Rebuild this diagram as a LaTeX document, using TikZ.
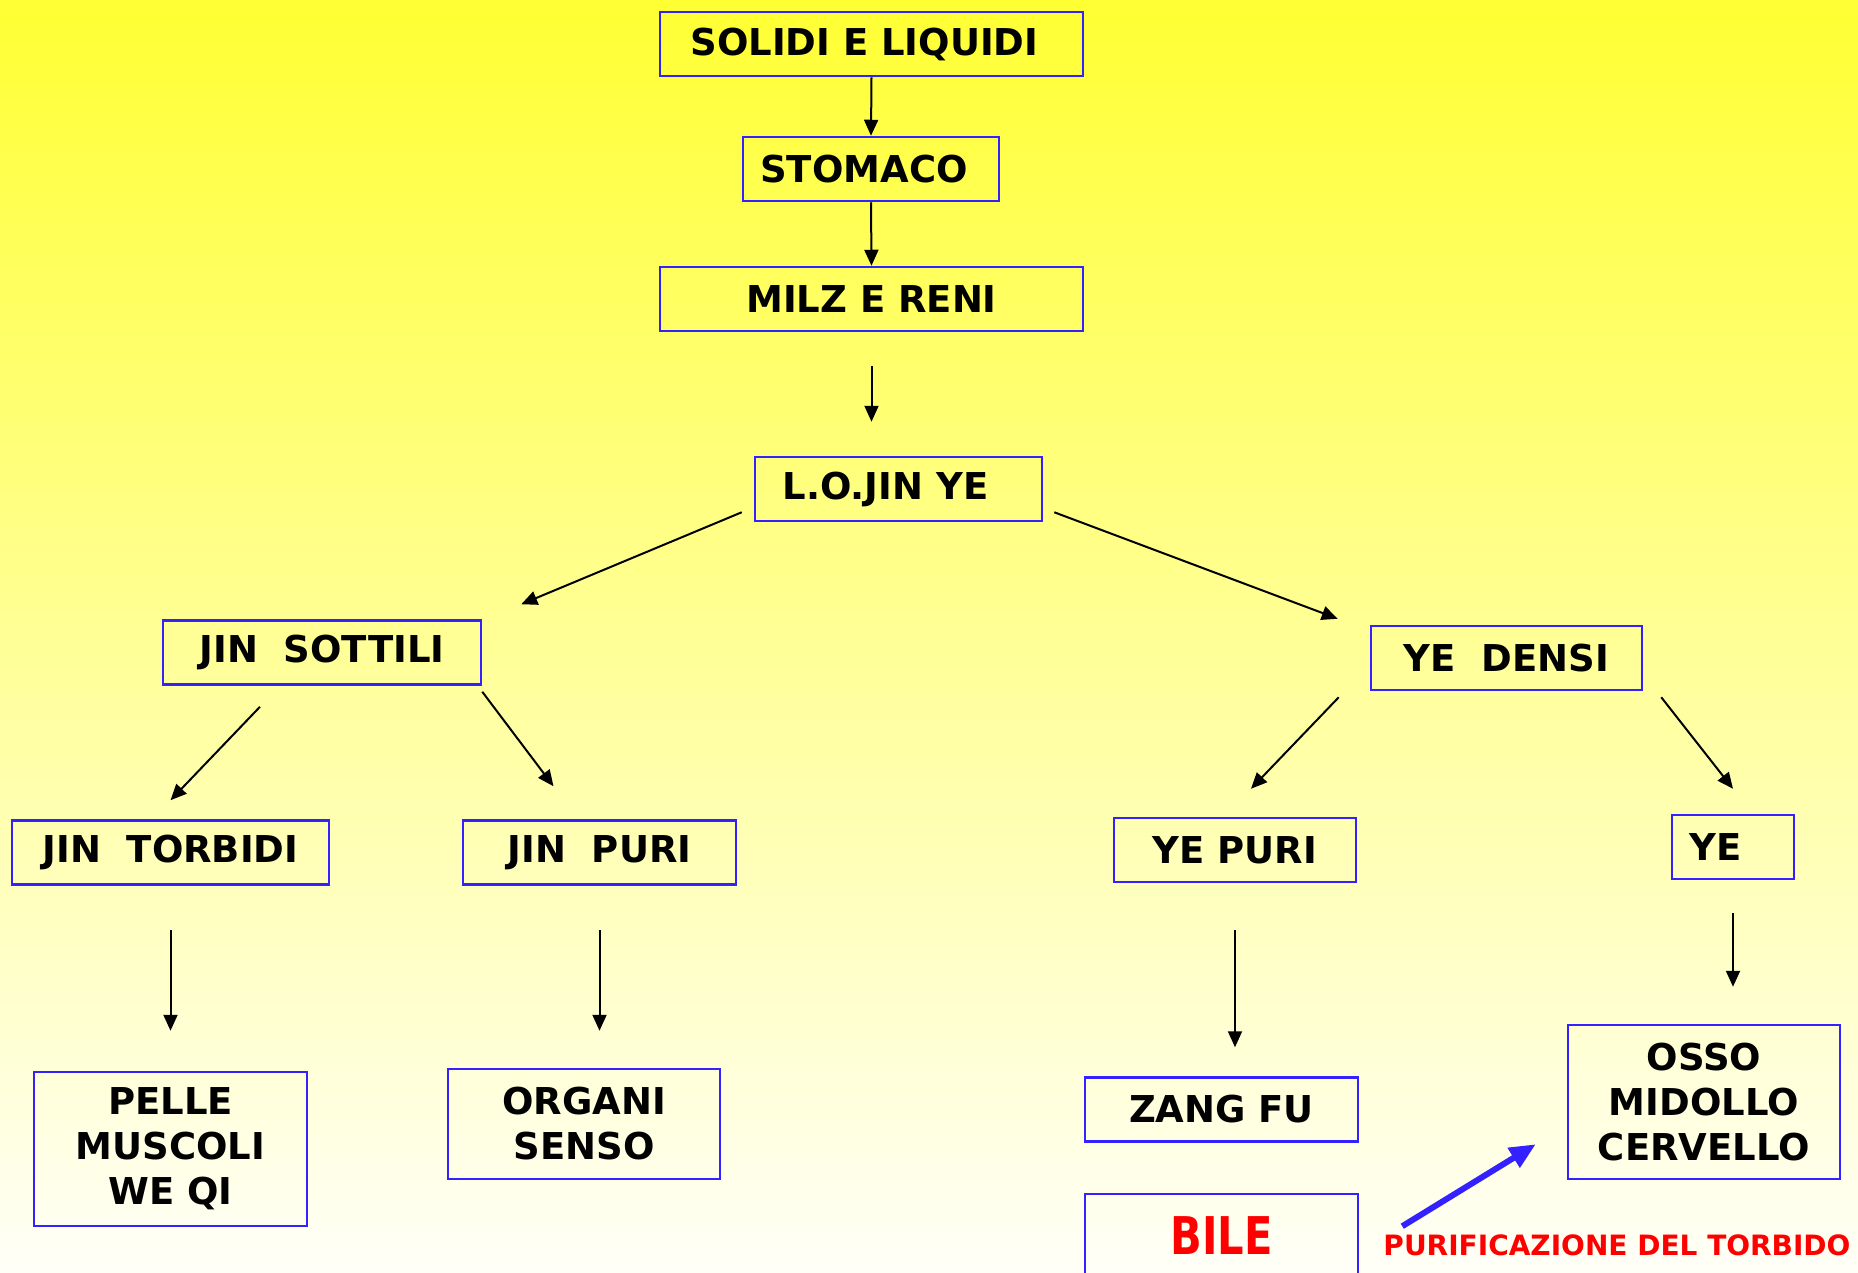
\documentclass[tikz,border=0pt]{standalone}
\usepackage{fontspec}
\setmainfont{DejaVu Sans}
\usepackage{graphicx}
\usepackage{tikz}
\usetikzlibrary{arrows.meta}
\definecolor{boxblue}{RGB}{51,34,255}
\definecolor{bgtop}{RGB}{255,255,51}
\definecolor{bgmid}{RGB}{255,255,180}
\definecolor{bgbot}{RGB}{255,255,248}

\begin{document}
\begin{tikzpicture}[x=1pt,y=-1pt]
    \tikzstyle{every node} = [font=\bfseries\fontsize{37}{45}\selectfont]
    \tikzstyle{block} = [draw=boxblue, line width=2.5pt, rectangle, inner sep=0pt, align=center, minimum height=64pt]
    \tikzstyle{flow} = [-{Triangle[length=16pt,width=14pt]}, line width=2pt]
    % background
    \shade[top color=bgtop, middle color=bgmid, bottom color=bgbot] (0,0) rectangle (1858,1272);
    \useasboundingbox (0,0) rectangle (1858,1272);

    % place nodes
    \node[block,minimum width=423pt](solidi) at (871.5,44){SOLIDI E LIQUIDI\hspace{14pt}};
    \node[block,minimum width=256pt](stomaco) at (871,169){STOMACO\hspace{14pt}};
    \node[block,minimum width=423pt](milz) at (871.5,299){MILZ E RENI};
    \node[block,minimum width=287pt](jinye) at (898.5,489){L.O.JIN YE\hspace{26pt}};
    \node[block,minimum width=318pt](sottili) at (322,652.5){JIN\ \ SOTTILI};
    \node[block,minimum width=271pt](densi) at (1506.5,658){YE\ \ DENSI};
    \node[block,minimum width=317pt](torbidi) at (170.5,852.5){JIN\ \ TORBIDI};
    \node[block,minimum width=273pt](jinpuri) at (599.5,852.5){JIN\ \ PURI};
    \node[block,minimum width=242pt](yepuri) at (1235,850){YE PURI};
    \node[block,minimum width=122pt](ye) at (1733,847){YE\hspace{34pt}};
    \node[block,minimum width=273pt,minimum height=154pt](pelle) at (170.5,1149){PELLE\\MUSCOLI\\WE QI};
    \node[block,minimum width=272pt,minimum height=110pt](organi) at (584,1124){ORGANI\\SENSO};
    \node[block,minimum width=273pt](zangfu) at (1221.5,1109.5){ZANG FU};
    \node[block,minimum width=273pt,minimum height=84pt,text=red,font=\bfseries\fontsize{52}{60}\selectfont](bile) at (1221.5,1236){\scalebox{0.8}[1]{BILE}};
    \node[block,minimum width=272pt,minimum height=154pt](osso) at (1704,1102){OSSO\\MIDOLLO\\CERVELLO};
    \node[inner sep=0pt,text=red,font=\bfseries\fontsize{28}{32}\selectfont](purif) at (1617,1245){PURIFICAZIONE DEL TORBIDO};

    % Connections
    \draw[flow](solidi.south)--(stomaco.north);
    \draw[flow](stomaco.south)--(milz.north);
    \draw[flow,shorten <=34pt,shorten >=34pt](milz.south)--(milz.south |- jinye.north);
    \draw[flow]([xshift=-12pt,yshift=10pt]jinye.south west)--([xshift=39pt,yshift=15pt]sottili.north east);
    \draw[flow]([xshift=11pt,yshift=10pt]jinye.south east)--([xshift=-32pt,yshift=6pt]densi.north west);
    \draw[flow]([xshift=-62pt,yshift=-21pt]sottili.south)--([yshift=19pt]torbidi.north);
    \draw[flow]([yshift=-6pt]sottili.south east)--([xshift=-46pt,yshift=33pt]jinpuri.north);
    \draw[flow]([xshift=-31pt,yshift=-6pt]densi.south west)--([xshift=16pt,yshift=28pt]yepuri.north);
    \draw[flow]([xshift=18pt,yshift=-6pt]densi.south east)--([yshift=25pt]ye.north);
    \draw[flow,shorten <=44pt,shorten >=40pt](torbidi.south)--(pelle.north);
    \draw[flow,shorten <=44pt,shorten >=37pt](jinpuri.south)--(jinpuri.south |- organi.north);
    \draw[flow,shorten <=47pt,shorten >=29pt](yepuri.south)--(yepuri.south |- zangfu.north);
    \draw[flow,shorten <=33pt,shorten >=37pt](ye.south)--(ye.south |- osso.north);
    \draw[-{Triangle[length=26pt,width=22pt]},line width=6pt,boxblue]([xshift=19pt,yshift=8pt]purif.north west)--([xshift=-31pt,yshift=36pt]osso.south west);

  \end{tikzpicture}
\end{document}
